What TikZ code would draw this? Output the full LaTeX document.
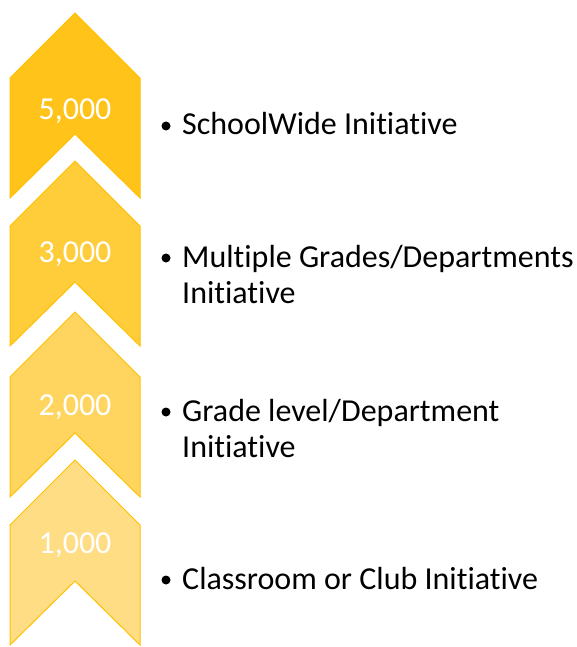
\documentclass[tikz,border=0pt]{standalone}
\usepackage{fontspec}
\setmainfont[Ligatures={NoCommon,NoDiscretionary}]{Carlito}
\definecolor{c1}{HTML}{FFC31A}
\definecolor{c2}{HTML}{FFCC3A}
\definecolor{c3}{HTML}{FFD55F}
\definecolor{c4}{HTML}{FFDD84}
\definecolor{edge}{HTML}{FFC000}
\tikzset{
  chev/.style={draw=edge, line width=1pt, line join=miter},
  num/.style={text=white, font=\fontsize{32}{36}\selectfont, anchor=base, inner sep=0pt},
  lbl/.style={text=black, font=\fontsize{32}{36}\selectfont, anchor=base west, inner sep=0pt, align=left},
  bul/.style={circle, fill=black, inner sep=0pt, minimum size=9pt}
}
\begin{document}
\begin{tikzpicture}[x=1pt,y=-1pt]
\useasboundingbox (0,0) rectangle (577,647);
% chevrons: apex a, shoulders a+65, notch a+121, corners a+185
\foreach \a/\c/\n in {13/c1/ch1,161/c2/ch2,312/c3/ch3,460/c4/ch4}{
  \path[chev, fill=\c] (75,\a) -- (140,\a+65) -- (140,\a+185) -- (75,\a+121) -- (10,\a+185) -- (10,\a+65) -- cycle;
}
\node[num] (n1) at (75,120) {5,000};
\node[num] (n2) at (75,262) {3,000};
\node[num] (n3) at (75,415) {2,000};
\node[num] (n4) at (75,553) {1,000};
\node[bul] (b1) at (166,126) {};
\node[lbl] (t1) at (182,135) {SchoolWide Initiative};
\node[bul] (b2) at (166,258) {};
\node[lbl, anchor=north west] (t2) at (182,242) {\strut Multiple Grades/Departments\\ Initiative};
\node[bul] (b3) at (166,412) {};
\node[lbl, anchor=north west] (t3) at (182,396) {\strut Grade level/Department\\ Initiative};
\node[bul] (b4) at (166,580) {};
\node[lbl] (t4) at (182,589) {Classroom or Club Initiative};
\end{tikzpicture}
\end{document}
